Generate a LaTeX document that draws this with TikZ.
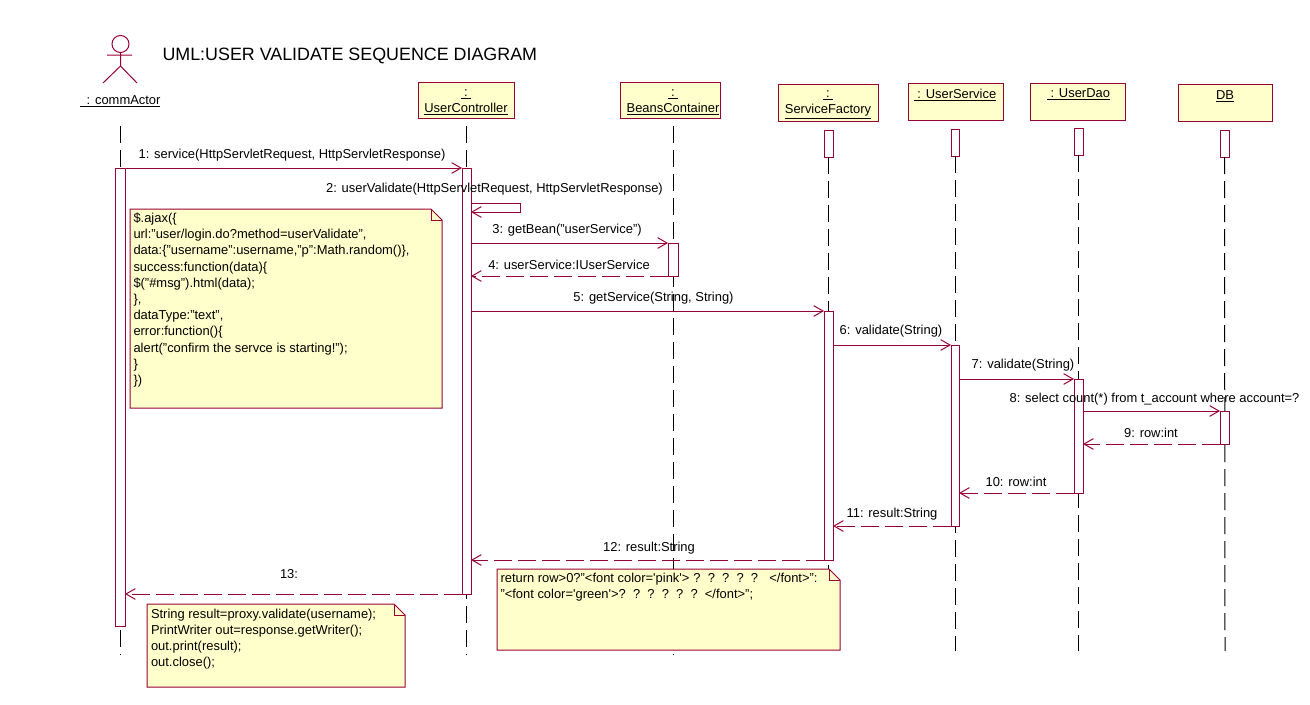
\documentclass[tikz,border=0pt]{standalone}
\usepackage{fontspec}
\setmainfont{Liberation Sans}
\usetikzlibrary{arrows.meta}
\definecolor{umlline}{RGB}{153,0,51}
\definecolor{umlfill}{RGB}{255,255,204}
\tikzset{every picture/.style={line width=0.75pt}}
\tikzset{
	headbox/.style={draw=umlline,fill=umlfill,inner sep=0pt,outer sep=0pt,anchor=north west},
	lifebar/.style={draw=umlline,fill=white,inner sep=0pt,outer sep=0pt,anchor=north west},
	lifeline/.style={draw=black,dash pattern=on 12.75pt off 5.25pt},
	msg/.style={draw=umlline,-{Straight Barb[length=7pt,width=8pt]}},
	ret/.style={msg,dash pattern=on 13.5pt off 4.5pt},
	notefill/.style={draw=umlline,fill=umlfill},
	txt/.style={inner sep=0.75pt,yshift=-1.1pt,font=\fontsize{9.7}{12.15}\selectfont},
	notetxt/.style={txt,anchor=north west,align=left}
}

\begin{document}
\begin{tikzpicture}[x=0.75pt,y=0.75pt,yscale=-1,xscale=1]
	\useasboundingbox (0,0) rectangle (1310,704);

	%Actor
	\draw [umlline] (120.5,44) circle [radius=8.5pt*0.75];
	\draw [umlline] (120.5,52.5) -- (120.5,66) (107,55) -- (132,55) (103,83) -- (120.5,66) -- (137,83);
	\node [txt] (actname) at (120,100) {\underline{\ \ : commActor}};
	\node [txt,font=\fontsize{13.4}{16}\selectfont,anchor=west] (title) at (161,54.5) {UML:USER VALIDATE SEQUENCE DIAGRAM};

	%Headers
	\node [headbox,minimum width=72pt,minimum height=27pt] (uchead) at (418,82) {};
	\node [headbox,minimum width=75pt,minimum height=27pt] (beanhead) at (620,82) {};
	\node [headbox,minimum width=75pt,minimum height=27.75pt] (sfhead) at (778,84) {};
	\node [headbox,minimum width=71.25pt,minimum height=27.75pt] (ushead) at (908,83) {};
	\node [headbox,minimum width=71.25pt,minimum height=27.75pt] (udhead) at (1030,83) {};
	\node [headbox,minimum width=70.5pt,minimum height=27.75pt] (dbhead) at (1178,84) {};
	\node [txt,align=center] (uctxt) at (466,101) {\underline{\ :\ }\\\underline{UserController}};
	\node [txt,align=center] (beantxt) at (673,101) {\underline{\ :\ }\\\underline{BeansContainer}};
	\node [txt,align=center] (sftxt) at (828,103) {\underline{\ :\ }\\\underline{ServiceFactory}};
	\node [txt] (ustxt) at (955,94) {\underline{\ : UserService}};
	\node [txt] (udtxt) at (1078.5,93) {\underline{\ : UserDao}};
	\node [txt] (dbtxt) at (1225,95) {\underline{DB}};

	%Small bars under the headers
	\node [lifebar,minimum width=6.75pt,minimum height=20.25pt] (sftop) at (824,130) {};
	\node [lifebar,minimum width=6pt,minimum height=20.25pt] (ustop) at (951,129) {};
	\node [lifebar,minimum width=6.75pt,minimum height=20.25pt] (udtop) at (1074,128) {};
	\node [lifebar,minimum width=6.75pt,minimum height=20.25pt] (dbtop) at (1220,130) {};

	%Lifelines
	\coordinate (acttop) at (120.5,126);
	\coordinate (actend) at (120.5,655);
	\coordinate (uctop) at (466.5,126);
	\coordinate (ucend) at (466.5,655);
	\coordinate (beantop) at (673.5,126);
	\coordinate (beanend) at (673.5,655);
	\coordinate (sfend) at (828.5,650);
	\coordinate (usend) at (955,651);
	\coordinate (udend) at (1078.5,651);
	\coordinate (dbend) at (1225,651);
	\draw [lifeline] (acttop) -- (actend);
	\draw [lifeline] (uctop) -- (ucend);
	\draw [lifeline] (beantop) -- (beanend);
	\draw [lifeline] (sftop.south) -- (sfend);
	\draw [lifeline] (ustop.south) -- (usend);
	\draw [lifeline] (udtop.south) -- (udend);
	\draw [lifeline] (dbtop.south) -- (dbend);

	%Activation bars
	\node [lifebar,minimum width=7.5pt,minimum height=343.5pt] (actbar) at (115,168) {};
	\node [lifebar,minimum width=6.75pt,minimum height=319.5pt] (ucbar) at (462,168) {};
	\node [lifebar,minimum width=7.5pt,minimum height=24.75pt] (beanbar) at (668,243) {};
	\node [lifebar,minimum width=6.75pt,minimum height=186.75pt] (sfbar) at (824,311) {};
	\node [lifebar,minimum width=6pt,minimum height=135.75pt] (usbar) at (951,345) {};
	\node [lifebar,minimum width=6.75pt,minimum height=85.5pt] (udbar) at (1074,379) {};
	\node [lifebar,minimum width=6.75pt,minimum height=24.75pt] (dbbar) at (1220,411) {};

	%Messages
	\coordinate (selfout) at (520,203);
	\coordinate (selfback) at (520,212);
	\draw [msg] (actbar.north west) -- (ucbar.north west);
	\draw [msg] (ucbar.east |- selfout) -- (selfout) -- (selfback) -- (ucbar.east |- selfback);
	\draw [msg] (ucbar.east |- beanbar.north) -- (beanbar.north west);
	\draw [ret] (beanbar.south west) -- (ucbar.east |- beanbar.south);
	\draw [msg] (ucbar.east |- sfbar.north) -- (sfbar.north west);
	\draw [msg] (sfbar.east |- usbar.north) -- (usbar.north west);
	\draw [msg] (usbar.east |- udbar.north) -- (udbar.north west);
	\draw [msg] (udbar.east |- dbbar.north) -- (dbbar.north west);
	\draw [ret] (dbbar.south west) -- (udbar.east |- dbbar.south);
	\draw [ret] (udbar.south west) -- (usbar.east |- udbar.south);
	\draw [ret] (usbar.south west) -- (sfbar.east |- usbar.south);
	\draw [ret] (sfbar.south west) -- (ucbar.east |- sfbar.south);
	\draw [ret] (ucbar.south west) -- (actbar.east |- ucbar.south);

	%Message labels
	\node [txt] (lab1) at (292,154) {1: service(HttpServletRequest, HttpServletResponse)};
	\node [txt] (lab2) at (494.5,188) {2: userValidate(HttpServletRequest, HttpServletResponse)};
	\node [txt] (lab3) at (567,229) {3: getBean("userService")};
	\node [txt] (lab4) at (569,263) {4: userService:IUserService};
	\node [txt] (lab5) at (653.5,297) {5: getService(String, String)};
	\node [txt] (lab6) at (891,330) {6: validate(String)};
	\node [txt] (lab7) at (1023,364) {7: validate(String)};
	\node [txt] (lab8) at (1154.5,398) {8: select count(*) from t\_account where account=?};
	\node [txt] (lab9) at (1151,431) {9: row:int};
	\node [txt] (lab10) at (1016,480) {10: row:int};
	\node [txt] (lab11) at (892,513) {11: result:String};
	\node [txt] (lab12) at (649,547) {12: result:String};
	\node [txt] (lab13) at (289,573) {13:};

	%Notes
	\draw [notefill] (130,209) -- (431,209) -- (442,220) -- (442,408) -- (130,408) -- cycle;
	\draw [umlline] (431,209) -- (431,220) -- (442,220);
	\node [notetxt] (notea) at (132,210) {\$.ajax(\{\\
		url:"user/login.do?method=userValidate",\\
		data:\{"username":username,"p":Math.random()\},\\
		success:function(data)\{\\
		\$("\#msg").html(data);\\
		\},\\
		dataType:"text",\\
		error:function()\{\\
		alert("confirm the servce is starting!");\\
		\}\\
		\})};

	\draw [notefill] (497,569) -- (829,569) -- (840,580) -- (840,650) -- (497,650) -- cycle;
	\draw [umlline] (829,569) -- (829,580) -- (840,580);
	\node [notetxt] (noteb) at (499,570) {return row>0?"<font color=\textquotesingle pink\textquotesingle>\hspace{3pt}?\ \ ?\ \ ?\ \ ?\ \ ?\ \ \hspace{3pt}</font>":\\
		"<font color=\textquotesingle green\textquotesingle>?\ \ ?\ \ ?\ \ ?\ \ ?\ \ ?\ \ </font>";};

	\draw [notefill] (147,604) -- (394,604) -- (405,615) -- (405,687) -- (147,687) -- cycle;
	\draw [umlline] (394,604) -- (394,615) -- (405,615);
	\node [notetxt] (notec) at (149.5,606) {String result=proxy.validate(username);\\
		PrintWriter out=response.getWriter();\\
		out.print(result);\\
		out.close();};
\end{tikzpicture}
\end{document}
